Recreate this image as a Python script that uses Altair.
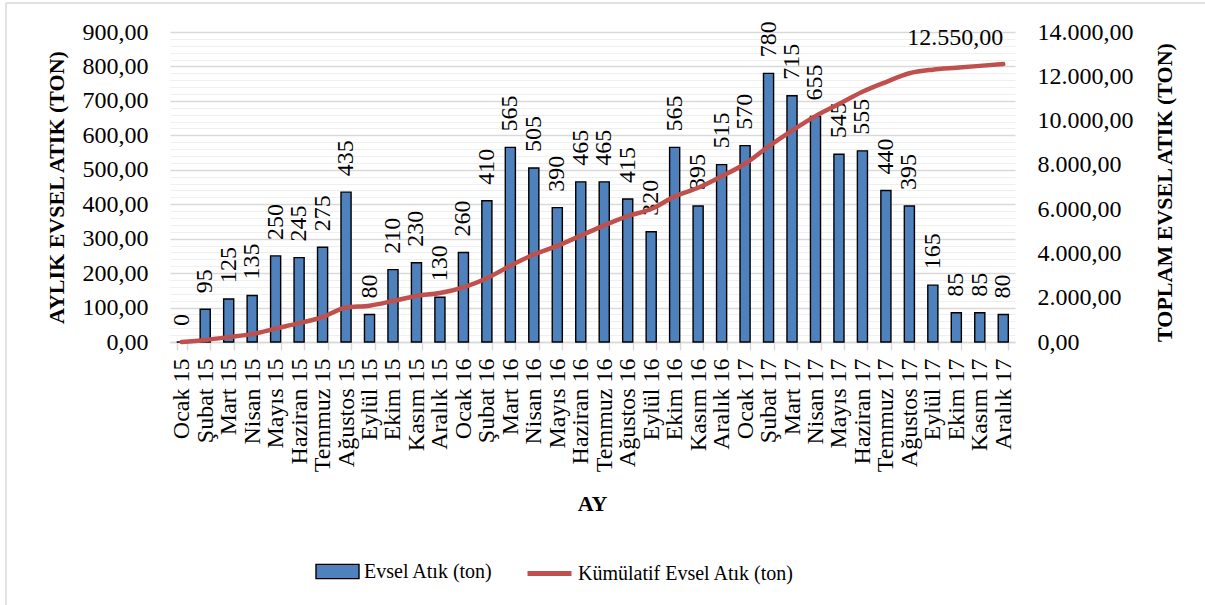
import itertools

import altair as alt
import pandas as pd

FONT = "Liberation Serif"

# Months (Turkish) and years shown on the category axis
aylar = ["Ocak", "Şubat", "Mart", "Nisan", "Mayıs", "Haziran",
         "Temmuz", "Ağustos", "Eylül", "Ekim", "Kasım", "Aralık"]
yillar = ["15", "16", "17"]
ay_etiketleri = [f"{a} {y}" for y in yillar for a in aylar]

# Monthly domestic waste (ton)
aylik_atik = [0, 95, 125, 135, 250, 245, 275, 435, 80, 210, 230, 130,
              260, 410, 565, 505, 390, 465, 465, 415, 320, 565, 395, 515,
              570, 780, 715, 655, 545, 555, 440, 395, 165, 85, 85, 80]

# Running total of the monthly amounts
kumulatif_atik = list(itertools.accumulate(aylik_atik))

# Left-axis gridline positions (major every 100, minor every 20)
sol_izgara = list(range(0, 901, 20))
sag_degerler = list(range(0, 14001, 2000))


def tr_sayi(v):
    s = f"{v:,.2f}"
    return s.replace(",", "_").replace(".", ",").replace("_", ".")


df = pd.DataFrame({
    "ay": ay_etiketleri,
    "atik": aylik_atik,
    "kum": kumulatif_atik,
    "kum_etiket": [tr_sayi(v) for v in kumulatif_atik],
    "seri_bar": "Evsel Atık (ton)",
    "seri_cizgi": "Kümülatif Evsel Atık (ton)",
})

x_enc = alt.X(
    "ay:N", sort=ay_etiketleri,
    scale=alt.Scale(paddingInner=0.57, paddingOuter=0.285),
    axis=alt.Axis(
        title="AY", labelAngle=-90, labelFont=FONT, labelFontSize=24,
        labelColor="#000000", labelPadding=8, labelOverlap=False,
        domainColor="#d9d9d9", domainWidth=1.5,
        tickBand="extent", tickSize=8, tickColor="#d9d9d9", tickWidth=1.5,
        titleFont=FONT, titleFontSize=22, titleFontWeight="bold",
        titleColor="#000000", titleX=422, titleY=161,
        titleBaseline="middle", titleAlign="center",
    ),
)

base = alt.Chart(df).encode(x=x_enc)

sol_eksen = alt.Axis(
    title="AYLIK EVSEL ATIK (TON)", orient="left",
    values=sol_izgara, tickCount=len(sol_izgara),
    labelExpr="datum.value % 100 === 0 ? replace(format(datum.value, '.2f'), '.', ',') : ''",
    labelFont=FONT, labelFontSize=24, labelColor="#000000", labelPadding=22,
    labelOverlap=False, ticks=False, domain=False,
    grid=True,
    gridColor={"condition": {"test": "datum.value % 100 === 0", "value": "#d9d9d9"}, "value": "#efefef"},
    gridWidth={"condition": {"test": "datum.value % 100 === 0", "value": 1.6}, "value": 1.2},
    titleFont=FONT, titleFontSize=22, titleFontWeight="bold", titleColor="#000000",
    titleAngle=270, titleX=-114, titleY=155, titleBaseline="middle", titleAlign="center",
)

y_sol = alt.Y("atik:Q", scale=alt.Scale(domain=[0, 900], nice=False), axis=sol_eksen)

bars = base.mark_bar(stroke="#000000", strokeWidth=1.4).encode(
    y=y_sol,
    fill=alt.Fill(
        "seri_bar:N", scale=alt.Scale(range=["#4F81BD"]),
        legend=alt.Legend(
            orient="none", legendX=145, legendY=517, title=None,
            symbolType="M-1,-0.33H1V0.33H-1Z", symbolSize=1849,
            symbolStrokeColor="#000000", symbolStrokeWidth=1.4, symbolOpacity=1,
            labelFont=FONT, labelFontSize=20, labelColor="#000000",
            labelLimit=400, labelOffset=4,
        ),
    ),
)

bar_labels = base.mark_text(
    angle=270, align="left", baseline="middle", dx=16,
    font=FONT, fontSize=24, color="#000000",
).encode(y=alt.Y("atik:Q"), text=alt.Text("atik:Q", format="d"))

sag_eksen = alt.Axis(
    title="TOPLAM EVSEL ATIK (TON)", orient="right",
    values=sag_degerler, tickCount=len(sag_degerler),
    labelExpr="replace(replace(replace(format(datum.value, ',.2f'), ',', '_'), '.', ','), '_', '.')",
    labelFont=FONT, labelFontSize=24, labelColor="#000000", labelPadding=22,
    ticks=False, domain=False, grid=False,
    titleFont=FONT, titleFontSize=22, titleFontWeight="bold", titleColor="#000000",
    titleAngle=270, titleX=149, titleY=160, titleBaseline="middle", titleAlign="center",
)

y_sag = alt.Y("kum:Q", scale=alt.Scale(domain=[0, 14000], nice=False), axis=sag_eksen)

line = base.mark_line(interpolate="monotone", strokeWidth=4.5, strokeCap="round").encode(
    y=y_sag,
    stroke=alt.Stroke(
        "seri_cizgi:N", scale=alt.Scale(range=["#C0504D"]),
        legend=alt.Legend(
            orient="none", legendX=355, legendY=517, title=None,
            symbolType="stroke", symbolSize=1936, symbolStrokeWidth=5,
            labelFont=FONT, labelFontSize=20, labelColor="#000000",
            labelLimit=400, labelOffset=4,
        ),
    ),
)

son_etiket = base.mark_text(
    align="right", baseline="alphabetic", dy=-19,
    font=FONT, fontSize=24, color="#000000",
).encode(y=alt.Y("kum:Q"), text="kum_etiket:N").transform_filter(
    alt.datum.ay == ay_etiketleri[-1]
)

sol = alt.layer(bars, bar_labels)
sag = alt.layer(line, son_etiket)

# Light frame along the top and left edges of the figure
cerceve_df = pd.DataFrame({"k": [0]})
cerceve_ust = alt.Chart(cerceve_df).mark_rule(color="#d9d9d9", strokeWidth=1.5).encode(
    x=alt.value(-164), x2=alt.value(1035), y=alt.value(-29)
)
cerceve_sol = alt.Chart(cerceve_df).mark_rule(color="#d9d9d9", strokeWidth=1.5).encode(
    x=alt.value(-164), y=alt.value(-29), y2=alt.value(573)
)

chart = alt.layer(sol, sag, cerceve_ust, cerceve_sol).resolve_scale(
    y="independent", fill="independent", stroke="independent"
).properties(
    width=845, height=310,
    padding={"left": 170, "top": 32, "right": 190, "bottom": 263},
    autosize=alt.AutoSizeParams(type="none"),
    background="#ffffff",
).configure(font=FONT).configure_view(strokeWidth=0)

chart.save("out.html", embed_options={"renderer": "svg", "actions": False})
